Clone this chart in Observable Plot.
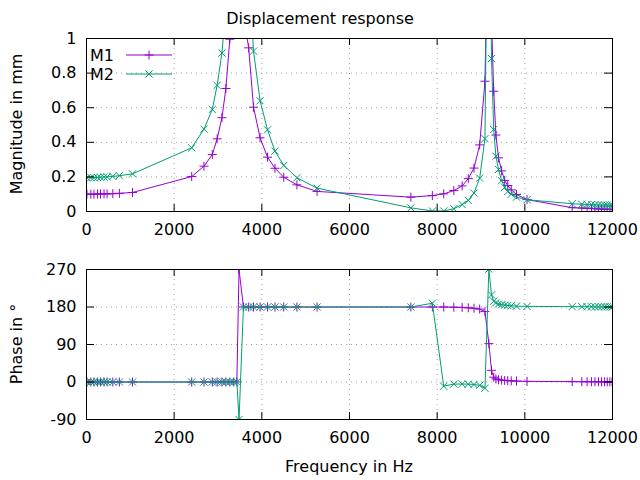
<!DOCTYPE html>
<html><head><meta charset="utf-8">
<script src="https://cdn.jsdelivr.net/npm/d3@7"></script>
<script src="https://cdn.jsdelivr.net/npm/@observablehq/plot@0.6"></script>
<style>
body{margin:0;background:#fff;}
#wrap{position:relative;width:640px;height:480px;font-family:"DejaVu Sans",sans-serif;font-size:16px;color:#000;overflow:hidden;background:#fff;}
.abs{position:absolute;white-space:nowrap;line-height:1;}
</style></head><body>
<div id="wrap">
  <div id="top" class="abs" style="left:0;top:0"></div>
  <div id="bot" class="abs" style="left:0;top:250px"></div>
  <div class="abs" style="left:320px;top:19px;transform:translate(-50%,-50%)">Displacement response</div>
  <div class="abs" style="left:17px;top:124px;transform:translate(-50%,-50%) rotate(-90deg)">Magnitude in mm</div>
  <div class="abs" style="left:17px;top:344px;transform:translate(-50%,-50%) rotate(-90deg)">Phase in °</div>
  <div class="abs" style="left:349px;top:467px;transform:translate(-50%,-50%)">Frequency in Hz</div>
  <svg id="legend" class="abs" style="left:0;top:0" width="200" height="100"></svg>
</div>
<script>
const seriesNames = ["M1", "M2"];
const colors = ["#9400d3", "#009e73"];
const freq = [
  10, 100, 170, 250, 320, 400, 470, 600, 750, 1050,
  2400, 2680, 2870, 2980, 3090, 3180, 3270, 3360, 3430, 3480,
  3580, 3700, 3810, 3960, 4130, 4300, 4500, 4800, 5260,
  7400, 7890, 8150, 8380, 8570, 8710, 8840, 8970, 9090, 9180, 9240,
  9290, 9340, 9400, 9470, 9540, 9610, 9690, 9810, 10050,
  11080, 11300, 11420, 11520, 11600, 11680, 11750, 11820, 11880, 11940, 11990
];
const m1Mag = [
  0.100, 0.100, 0.100, 0.101, 0.101, 0.102, 0.102, 0.103, 0.105, 0.110,
  0.202, 0.262, 0.329, 0.420, 0.542, 0.711, 0.996, 1.5, 3.0, 8.0,
  1.13, 0.946, 0.603, 0.426, 0.314, 0.250, 0.198, 0.154, 0.116,
  0.083, 0.092, 0.102, 0.121, 0.148, 0.190, 0.251, 0.385, 0.753, 2.0, 1.1,
  0.695, 0.442, 0.310, 0.235, 0.180, 0.150, 0.125, 0.098, 0.069,
  0.022, 0.020, 0.018, 0.017, 0.016, 0.015, 0.014, 0.013, 0.013, 0.012, 0.012
];
const m2Mag = [
  0.195, 0.196, 0.196, 0.197, 0.198, 0.199, 0.200, 0.203, 0.207, 0.218,
  0.368, 0.476, 0.590, 0.729, 0.916, 1.19, 1.65, 2.5, 5.0, 12.0,
  1.9, 1.45, 0.927, 0.640, 0.472, 0.349, 0.266, 0.195, 0.135,
  0.021, 0.003, 0.003, 0.016, 0.040, 0.064, 0.106, 0.193, 0.421, 2.5, 0.884,
  0.474, 0.320, 0.243, 0.178, 0.140, 0.115, 0.100, 0.083, 0.068,
  0.045, 0.042, 0.041, 0.040, 0.039, 0.038, 0.037, 0.037, 0.036, 0.036, 0.035
];
const m1Phase = [
  0, 0, 0, 0, 0, 0, 0, 0, 0, 0,
  0, 0, 0, 0, 0, 0, 0, 0, 0, 270,
  180, 180, 180, 180, 180, 180, 180, 180, 180,
  180, 180, 180, 179.5, 179, 178, 177, 175, 169, 92, 28,
  11.5, 7.4, 5.5, 4.5, 3.8, 3.2, 2.8, 2.2, 1.5,
  0.8, 0.7, 0.6, 0.6, 0.5, 0.5, 0.4, 0.4, 0.4, 0.3, 0.3
];
const m2Phase = [
  0, 0, 0, 0, 0, 0, 0, 0, 0, 0,
  0, 0, 0, 0, 0, 0, 0, 0, 0, -90,
  180, 180, 180, 180, 180, 180, 180, 180, 180,
  180, 189, -10, -5, -5, -5, -6, -8, -15, 271, 209,
  194, 190, 187, 185.5, 184.5, 183.5, 183, 182, 181.5,
  180.8, 180.7, 180.6, 180.6, 180.5, 180.5, 180.4, 180.4, 180.4, 180.3, 180.3
];
const xTicks = [0, 2000, 4000, 6000, 8000, 10000, 12000];
const magTicks = [0, 0.2, 0.4, 0.6, 0.8, 1];
const phaseTicks = [-90, 0, 90, 180, 270];

const rows = freq.map((f, i) => ({f, m1: m1Mag[i], m2: m2Mag[i], p1: m1Phase[i], p2: m2Phase[i]}));

const plusSym = {draw(ctx) { const r = 4.5; ctx.moveTo(-r, 0); ctx.lineTo(r, 0); ctx.moveTo(0, -r); ctx.lineTo(0, r); }};
const timesSym = {draw(ctx) { const r = 3.6; ctx.moveTo(-r, -r); ctx.lineTo(r, r); ctx.moveTo(-r, r); ctx.lineTo(r, -r); }};

const W = 640, ML = 86, MR = 28, PW = W - ML - MR;
const gridStyle = {stroke: "#a0a0a0", strokeOpacity: 1, strokeDasharray: "1,4", strokeWidth: 1};

function panel({yKey1, yKey2, domain, yTicks, height, marginTop, marginBottom, yFmt}) {
  const PH = height - marginTop - marginBottom;
  const inner = (a, b) => a.filter(v => v !== b[0] && v !== b[b.length - 1]);
  return Plot.plot({
    width: W, height, marginLeft: ML, marginRight: MR, marginTop, marginBottom,
    style: {fontFamily: "DejaVu Sans", fontSize: "16px", color: "#000", background: "transparent", overflow: "visible"},
    x: {domain: [0, 12000]},
    y: {domain},
    marks: [
      Plot.gridX(inner(xTicks, xTicks), gridStyle),
      Plot.gridY(inner(yTicks, yTicks), gridStyle),
      Plot.line(rows, {x: "f", y: yKey1, stroke: colors[0], strokeWidth: 1, clip: true}),
      Plot.dot(rows, {x: "f", y: yKey1, symbol: plusSym, r: 4, stroke: colors[0], fill: "none", strokeWidth: 1, clip: true}),
      Plot.line(rows, {x: "f", y: yKey2, stroke: colors[1], strokeWidth: 1, clip: true}),
      Plot.dot(rows, {x: "f", y: yKey2, symbol: timesSym, r: 4, stroke: colors[1], fill: "none", strokeWidth: 1, clip: true}),
      Plot.tickY(yTicks, {y: d => d, insetRight: PW - 8, stroke: "#000"}),
      Plot.tickY(yTicks, {y: d => d, insetLeft: PW - 8, stroke: "#000"}),
      Plot.tickX(xTicks, {x: d => d, insetTop: PH - 7, stroke: "#000"}),
      Plot.tickX(xTicks, {x: d => d, insetBottom: PH - 7, stroke: "#000"}),
      Plot.frame({stroke: "#000", strokeWidth: 1}),
      Plot.axisX({ticks: xTicks, tickSize: 0, tickPadding: 12, tickFormat: d3.format("d"), label: null}),
      Plot.axisY({ticks: yTicks, tickSize: 0, tickPadding: 10, tickFormat: yFmt, label: null})
    ]
  });
}

document.getElementById("top").appendChild(panel({
  yKey1: "m1", yKey2: "m2", domain: [0, 1], yTicks: magTicks,
  height: 250, marginTop: 38, marginBottom: 39, yFmt: d => String(d)
}));
document.getElementById("bot").appendChild(panel({
  yKey1: "p1", yKey2: "p2", domain: [-90, 270], yTicks: phaseTicks,
  height: 230, marginTop: 19, marginBottom: 61, yFmt: d => String(d)
}));

// legend
const lg = d3.select("#legend");
seriesNames.forEach((name, i) => {
  const y = 55 + i * 19;
  lg.append("text").attr("x", 90).attr("y", y).attr("dy", "0.35em")
    .attr("font-family", "DejaVu Sans").attr("font-size", 16).attr("fill", "#000").text(name);
  lg.append("line").attr("x1", 126).attr("x2", 172).attr("y1", y).attr("y2", y)
    .attr("stroke", colors[i]).attr("stroke-width", 1);
  const p = d3.path();
  (i === 0 ? plusSym : timesSym).draw(p);
  lg.append("path").attr("d", p.toString()).attr("transform", `translate(149,${y})`)
    .attr("stroke", colors[i]).attr("fill", "none").attr("stroke-width", 1);
});
</script>
</body></html>
